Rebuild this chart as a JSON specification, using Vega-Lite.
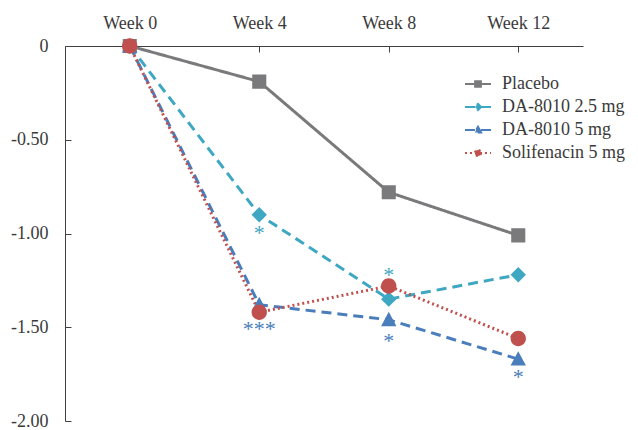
{
  "$schema": "https://vega.github.io/schema/vega-lite/v6.json",
  "width": 518,
  "height": 375,
  "autosize": {"type": "none"},
  "padding": {"left": 65, "top": 46, "right": 55, "bottom": 9},
  "background": "white",
  "config": {
    "font": "Liberation Serif, Times New Roman, serif",
    "view": {"stroke": null},
    "axis": {"labelFont": "Liberation Serif, Times New Roman, serif", "labelFontSize": 18, "labelColor": "#3a3a3a", "domainColor": "#404040", "tickColor": "#404040", "grid": false, "title": null}
  },
  "datasets": {
    "scores": [
      {"week": "Week 0", "series": "Placebo", "value": 0},
      {"week": "Week 4", "series": "Placebo", "value": -0.19},
      {"week": "Week 8", "series": "Placebo", "value": -0.78},
      {"week": "Week 12", "series": "Placebo", "value": -1.01},
      {"week": "Week 0", "series": "DA-8010 2.5 mg", "value": 0},
      {"week": "Week 4", "series": "DA-8010 2.5 mg", "value": -0.90},
      {"week": "Week 8", "series": "DA-8010 2.5 mg", "value": -1.35},
      {"week": "Week 12", "series": "DA-8010 2.5 mg", "value": -1.22},
      {"week": "Week 0", "series": "DA-8010 5 mg", "value": 0},
      {"week": "Week 4", "series": "DA-8010 5 mg", "value": -1.38},
      {"week": "Week 8", "series": "DA-8010 5 mg", "value": -1.46},
      {"week": "Week 12", "series": "DA-8010 5 mg", "value": -1.67},
      {"week": "Week 0", "series": "Solifenacin 5 mg", "value": 0},
      {"week": "Week 4", "series": "Solifenacin 5 mg", "value": -1.42},
      {"week": "Week 8", "series": "Solifenacin 5 mg", "value": -1.28},
      {"week": "Week 12", "series": "Solifenacin 5 mg", "value": -1.56}
    ],
    "stars": [
      {"week": "Week 4", "series": "DA-8010 2.5 mg", "value": -0.975, "label": "*"},
      {"week": "Week 8", "series": "DA-8010 2.5 mg", "value": -1.20, "label": "*"},
      {"week": "Week 4", "series": "DA-8010 5 mg", "value": -1.49, "label": "***"},
      {"week": "Week 8", "series": "DA-8010 5 mg", "value": -1.55, "label": "*"},
      {"week": "Week 12", "series": "DA-8010 5 mg", "value": -1.745, "label": "*"}
    ]
  },
  "encoding": {
    "x": {"field": "week", "type": "ordinal", "sort": ["Week 0", "Week 4", "Week 8", "Week 12"], "scale": {"type": "point", "padding": 0.5},
      "axis": {"orient": "top", "labelAngle": 0, "tickSize": -6, "labelPadding": 20}},
    "y": {"field": "value", "type": "quantitative", "scale": {"domain": [-2, 0], "nice": false, "zero": false},
      "axis": {"orient": "left", "values": [0, -0.5, -1, -1.5, -2], "labelExpr": "datum.value === 0 ? '0' : '-' + format(abs(datum.value), '.2f')", "tickSize": -6, "labelPadding": 23, "labelFlush": false, "labelOverlap": false}}
  },
  "layer": [
    {
      "data": {"name": "scores"},
      "mark": {"type": "line", "strokeWidth": 3},
      "encoding": {
        "stroke": {"field": "series", "type": "nominal",
          "scale": {"domain": ["Placebo", "DA-8010 2.5 mg", "DA-8010 5 mg", "Solifenacin 5 mg"], "range": ["#7a7a7c", "#3ea7c2", "#4a7dbb", "#c0504d"]},
          "legend": {"title": null, "orient": "none", "legendX": 399, "legendY": 24, "symbolSize": 676, "symbolStrokeWidth": 2, "labelFontSize": 18, "labelFont": "Liberation Serif, Times New Roman, serif", "labelColor": "#3a3a3a", "rowPadding": -4, "labelOffset": 10, "padding": 0}},
        "strokeDash": {"field": "series", "type": "nominal",
          "scale": {"domain": ["Placebo", "DA-8010 2.5 mg", "DA-8010 5 mg", "Solifenacin 5 mg"], "range": [[1, 0], [10, 6], [10, 6], [2, 3]]},
          "legend": {"title": null, "orient": "none", "legendX": 399, "legendY": 24, "symbolSize": 676, "symbolStrokeWidth": 2, "labelFontSize": 18, "labelFont": "Liberation Serif, Times New Roman, serif", "labelColor": "#3a3a3a", "rowPadding": -4, "labelOffset": 10, "padding": 0}}
      }
    },
    {
      "data": {"name": "scores"},
      "mark": {"type": "point", "filled": true, "opacity": 1, "size": 4096},
      "encoding": {
        "fill": {"field": "series", "type": "nominal",
          "scale": {"domain": ["Placebo", "DA-8010 2.5 mg", "DA-8010 5 mg", "Solifenacin 5 mg"], "range": ["#7a7a7c", "#3ea7c2", "#4a7dbb", "#c0504d"]},
          "legend": {"title": null, "orient": "none", "legendX": 399, "legendY": 24, "symbolSize": 676, "symbolStrokeWidth": 2, "labelFontSize": 18, "labelFont": "Liberation Serif, Times New Roman, serif", "labelColor": "#3a3a3a", "rowPadding": -4, "labelOffset": 10, "padding": 0}},
        "shape": {"field": "series", "type": "nominal",
          "scale": {"domain": ["Placebo", "DA-8010 2.5 mg", "DA-8010 5 mg", "Solifenacin 5 mg"],
            "range": [
              "M-1,0H1M-0.22,-0.22H0.22V0.22H-0.22Z",
              "M-1,0H1M0,-0.24L0.24,0L0,0.24L-0.24,0Z",
              "M-1,0H1M0,-0.25L0.24,0.2L-0.24,0.2Z",
              "M-1,0H1M0.24,0A0.24,0.24 0 1 1 -0.24,0A0.24,0.24 0 1 1 0.24,0Z"
            ]},
          "legend": {"title": null, "orient": "none", "legendX": 399, "legendY": 24, "symbolSize": 676, "symbolStrokeWidth": 2, "labelFontSize": 18, "labelFont": "Liberation Serif, Times New Roman, serif", "labelColor": "#3a3a3a", "rowPadding": -4, "labelOffset": 10, "padding": 0}}
      }
    },
    {
      "data": {"name": "stars"},
      "transform": [{"filter": "datum.series === 'DA-8010 2.5 mg'"}],
      "mark": {"type": "text", "color": "#3ea7c2", "fontSize": 22, "baseline": "alphabetic", "dy": 11, "font": "Liberation Serif, Times New Roman, serif"},
      "encoding": {"text": {"field": "label"}}
    },
    {
      "data": {"name": "stars"},
      "transform": [{"filter": "datum.series === 'DA-8010 5 mg'"}],
      "mark": {"type": "text", "color": "#4a7dbb", "fontSize": 22, "baseline": "alphabetic", "dy": 11, "font": "Liberation Serif, Times New Roman, serif"},
      "encoding": {"text": {"field": "label"}}
    }
  ]
}
